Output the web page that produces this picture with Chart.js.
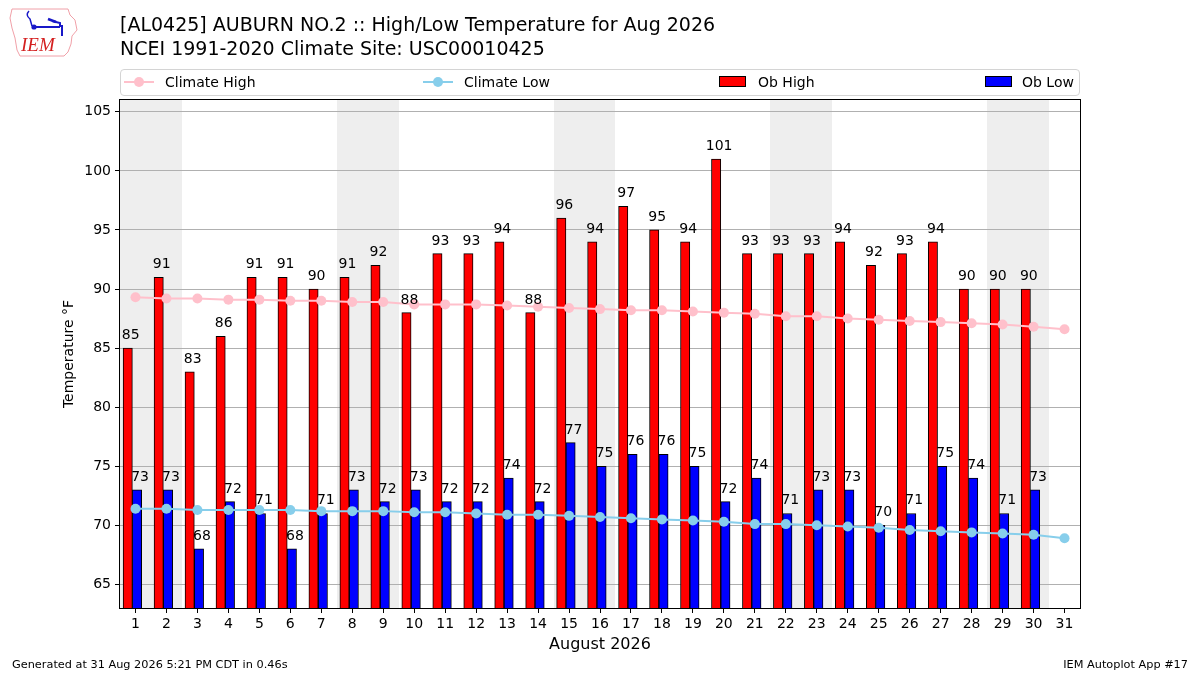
<!DOCTYPE html>
<html>
<head>
<meta charset="utf-8">
<script src="https://cdn.jsdelivr.net/npm/chart.js@4.4.1/dist/chart.umd.min.js"></script>
<style>
  html, body { margin: 0; padding: 0; background: #fff; }
  body { width: 1200px; height: 675px; position: relative; overflow: hidden; font-family: "DejaVu Sans", sans-serif; color: #000; }
  #wrap { position: absolute; left: 0; top: 0; width: 1200px; height: 675px; }
  .title { position: absolute; left: 120px; font-size: 19px; white-space: nowrap; line-height: 24px; }
  .legend { position: absolute; left: 120px; top: 69px; width: 958px; height: 25px; border: 1px solid #d4d4d4; border-radius: 4px; background: #fff; }
  .lg { position: absolute; top: 0; height: 25px; line-height: 25px; font-size: 14px; white-space: nowrap; }
  .lg .ln { position: absolute; top: 11px; width: 30px; height: 2px; }
  .lg .dot { position: absolute; top: 7px; left: 10px; width: 10px; height: 10px; border-radius: 50%; }
  .lg .box { position: absolute; top: 6px; width: 27px; height: 11px; border: 1px solid #000; box-sizing: border-box; }
  .foot { position: absolute; top: 658px; font-size: 11.3px; white-space: nowrap; }
  .logo { position: absolute; left: 8px; top: 6px; }
</style>
</head>
<body>
<div id="wrap"><canvas id="chart" width="1200" height="675"></canvas></div>

<svg class="logo" width="72" height="54" viewBox="0 0 72 54">
  <path d="M4 3 L60 3 L62 9 L67 14 L69 24 L64 30 L63 38 L60 46 L56 50 L12 50 L9 44 L7 32 L4 22 L2 12 Z" fill="#fff" stroke="#f0a0a8" stroke-width="1"/>
  <path d="M21 5 Q17 9 22 13 L24 20" fill="none" stroke="#1818c8" stroke-width="1.5"/>
  <circle cx="26" cy="21" r="2.6" fill="#1818c8"/>
  <path d="M26 21 L52 21 M44 15 L52 17 L52 21 M54 19 L54 30" fill="none" stroke="#1818c8" stroke-width="2"/>
  <path d="M40 13 L48 16" fill="none" stroke="#1818c8" stroke-width="2.5"/>
  <text x="13" y="45" font-family="Liberation Serif, serif" font-style="italic" font-size="19" fill="#d42020">IEM</text>
</svg>
<div class="title" style="top:12px">[AL0425] AUBURN NO.2 :: High/Low Temperature for Aug 2026</div>
<div class="title" style="top:36px">NCEI 1991-2020 Climate Site: USC00010425</div>

<div class="legend">
  <div class="lg" style="left:3px"><div class="ln" style="background:#ffc0cb"></div><div class="dot" style="background:#ffc0cb"></div><span style="margin-left:41px">Climate High</span></div>
  <div class="lg" style="left:302px"><div class="ln" style="background:#87ceeb"></div><div class="dot" style="background:#87ceeb"></div><span style="margin-left:41px">Climate Low</span></div>
  <div class="lg" style="left:598px"><div class="box" style="background:#ff0000"></div><span style="margin-left:39px">Ob High</span></div>
  <div class="lg" style="left:864px"><div class="box" style="background:#0000ff"></div><span style="margin-left:37px">Ob Low</span></div>
</div>

<div class="foot" style="left:12px">Generated at 31 Aug 2026 5:21 PM CDT in 0.46s</div>
<div class="foot" style="right:12px">IEM Autoplot App #17</div>

<script>
const days = [1, 2, 3, 4, 5, 6, 7, 8, 9, 10, 11, 12, 13, 14, 15, 16, 17, 18, 19, 20, 21, 22, 23, 24, 25, 26, 27, 28, 29, 30, 31];
const obDays = [1, 2, 3, 4, 5, 6, 7, 8, 9, 10, 11, 12, 13, 14, 15, 16, 17, 18, 19, 20, 21, 22, 23, 24, 25, 26, 27, 28, 29, 30];
const obHigh = [85, 91, 83, 86, 91, 91, 90, 91, 92, 88, 93, 93, 94, 88, 96, 94, 97, 95, 94, 101, 93, 93, 93, 94, 92, 93, 94, 90, 90, 90];
const obLow = [73, 73, 68, 72, 71, 68, 71, 73, 72, 73, 72, 72, 74, 72, 77, 75, 76, 76, 75, 72, 74, 71, 73, 73, 70, 71, 75, 74, 71, 73];
const climHigh = [89.3, 89.2, 89.2, 89.1, 89.1, 89.0, 89.0, 88.9, 88.9, 88.7, 88.7, 88.7, 88.6, 88.5, 88.4, 88.3,
  88.2, 88.2, 88.1, 88.0, 87.9, 87.7, 87.7, 87.5, 87.4, 87.3, 87.2, 87.1, 87.0, 86.8, 86.6];
const climLow = [71.4, 71.4, 71.3, 71.3, 71.3, 71.3, 71.2, 71.2, 71.2, 71.1, 71.1, 71.0, 70.9, 70.9, 70.8, 70.7,
  70.6, 70.5, 70.4, 70.3, 70.1, 70.1, 70.0, 69.9, 69.8, 69.6, 69.5, 69.4, 69.3, 69.2, 68.9];
const weekendDays = [1, 2, 8, 9, 15, 16, 22, 23, 29, 30];
const yTicks = [65, 70, 75, 80, 85, 90, 95, 100, 105];

const FONT = "DejaVu Sans";

// grey bands behind the weekend days, plus the plot frame
const weekendBands = {
  id: "weekendBands",
  beforeDraw(chart) {
    const { ctx, chartArea: a, scales } = chart;
    ctx.save();
    ctx.fillStyle = "#eeeeee";
    weekendDays.forEach(d => {
      const x0 = Math.round(scales.x.getPixelForValue(d - 0.5));
      const x1 = Math.round(scales.x.getPixelForValue(d + 0.5));
      ctx.fillRect(x0, a.top, x1 - x0, a.bottom - a.top);
    });
    ctx.restore();
  },
  afterDraw(chart) {
    const { ctx, chartArea: a } = chart;
    ctx.save();
    ctx.strokeStyle = "#000";
    ctx.lineWidth = 1;
    ctx.strokeRect(Math.round(a.left) - 0.5, Math.round(a.top) - 0.5, Math.round(a.right - a.left) + 1, Math.round(a.bottom - a.top) + 1);
    ctx.restore();
  },
};

// value labels above each bar
const barLabels = {
  id: "barLabels",
  afterDatasetsDraw(chart) {
    const { ctx } = chart;
    ctx.save();
    ctx.font = `14px "${FONT}"`;
    ctx.fillStyle = "#000";
    ctx.textAlign = "center";
    ctx.textBaseline = "alphabetic";
    chart.data.datasets.forEach((ds, i) => {
      if (ds.type !== "bar") return;
      chart.getDatasetMeta(i).data.forEach((el, j) => {
        ctx.fillText(String(ds.data[j].y), el.x + 3, el.y - 9);
      });
    });
    ctx.restore();
  },
};

const setDayTicks = s => { s.ticks = days.map(v => ({ value: v })); };

new Chart(document.getElementById("chart"), {
  data: {
    datasets: [
      {
        type: "line", label: "Climate High", xAxisID: "x",
        data: days.map((d, i) => ({ x: d, y: climHigh[i] })),
        borderColor: "#ffc0cb", backgroundColor: "#ffc0cb", borderWidth: 2,
        pointRadius: 5, pointBorderWidth: 0, pointBackgroundColor: "#ffc0cb",
      },
      {
        type: "line", label: "Climate Low", xAxisID: "x",
        data: days.map((d, i) => ({ x: d, y: climLow[i] })),
        borderColor: "#87ceeb", backgroundColor: "#87ceeb", borderWidth: 2,
        pointRadius: 5, pointBorderWidth: 0, pointBackgroundColor: "#87ceeb",
      },
      {
        type: "bar", label: "Ob High", xAxisID: "xb",
        data: obDays.map((d, i) => ({ x: d, y: obHigh[i] })),
        backgroundColor: "#ff0000", borderColor: "#000", borderWidth: 1,
        barThickness: 9.3,
      },
      {
        type: "bar", label: "Ob Low", xAxisID: "xb",
        data: obDays.map((d, i) => ({ x: d, y: obLow[i] })),
        backgroundColor: "#0000ff", borderColor: "#000", borderWidth: 1,
        barThickness: 9.3,
      },
    ],
  },
  options: {
    responsive: false,
    animation: false,
    devicePixelRatio: 1,
    layout: { padding: { left: 0, top: 100, right: 120, bottom: 0 } },
    plugins: { legend: { display: false }, tooltip: { enabled: false } },
    scales: {
      x: {
        type: "linear", position: "bottom", min: 0.5, max: 31.5, offset: false,
        afterBuildTicks: setDayTicks,
        afterFit: s => { s.height = 67; },
        grid: { drawOnChartArea: false, drawTicks: true, tickLength: 5, tickColor: "#000" },
        border: { display: false },
        ticks: { color: "#000", font: { family: FONT, size: 14 }, padding: 3, maxRotation: 0, autoSkip: false },
        title: { display: true, text: "August 2026", color: "#000", font: { family: FONT, size: 16 }, padding: { top: 0, bottom: 21 } },
      },
      xb: {
        type: "linear", display: false, min: 0.6, max: 31.6, offset: false,
        afterBuildTicks: setDayTicks,
      },
      y: {
        type: "linear", position: "left", min: 63, max: 106,
        afterBuildTicks: s => { s.ticks = yTicks.map(v => ({ value: v })); },
        afterFit: s => { s.width = 120; },
        grid: { color: "#b0b0b0", lineWidth: 1, drawTicks: true, tickLength: 5, tickColor: "#000" },
        border: { display: false },
        ticks: { color: "#000", font: { family: FONT, size: 14 }, padding: 4 },
        title: { display: true, text: "Temperature °F", color: "#000", font: { family: FONT, size: 14 }, padding: { top: 61, bottom: 0 } },
      },
    },
  },
  plugins: [weekendBands, barLabels],
});
</script>
</body>
</html>
